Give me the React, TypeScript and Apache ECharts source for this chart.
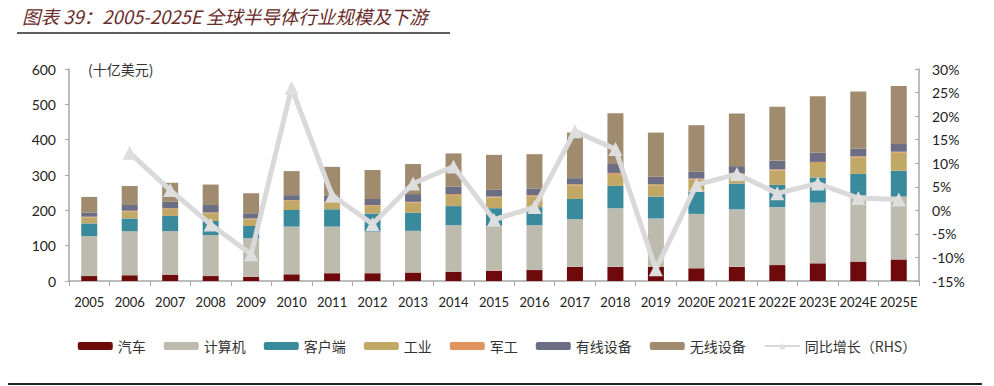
import React, { useEffect, useRef } from "react";
import * as echarts from "echarts";

const years = ["2005","2006","2007","2008","2009","2010","2011","2012","2013","2014","2015","2016","2017","2018","2019","2020E","2021E","2022E","2023E","2024E","2025E"];
const auto =      [14,16,18,14,12,19,22,22,24,26,29,31,40,40,40,36,40,45,50,55,61];
const computer =  [113,125,123,116,109,135,132,118,118,132,127,127,135,166,137,154,163,164,172,188,178];
const client =    [36,36,43,40,35,47,49,51,51,54,50,51,57,63,62,63,73,63,71,60,73];
const industry =  [17,20,20,22,19,26,19,22,29,31,30,31,39,34,32,34,26,41,41,47,51];
const military =  [2,2,2,2,2,2,2,2,2,3,3,3,3,3,3,3,3,3,3,3,3];
const wired =     [12,16,18,21,15,14,17,17,22,21,19,19,17,25,21,19,20,24,26,22,22];
const wireless =  [44,54,54,58,56,68,82,82,85,94,99,97,129,144,125,132,149,153,160,161,164];
const growth =    [null,12.2,4.3,-3.0,-9.3,26,3.2,-2.9,5.7,9.3,-2.0,0.7,16.8,13.0,-12.5,5.4,7.7,3.6,5.7,2.6,2.3];
const leftTicks = { min: 0, max: 600, interval: 100 };
const rightTicks = { min: -15, max: 30, interval: 5 };

const names = ["汽车","计算机","客户端","工业","军工","有线设备","无线设备"];
const colors = ["#6E0A0C","#BDBBAE","#3A8A9E","#C2A866","#E0955E","#6C6E84","#A08B6F"];
const lineName = "同比增长（RHS）";

export default function App() {
  const ref = useRef<HTMLDivElement>(null);
  useEffect(() => {
    if (!ref.current) return;
    const chart = echarts.init(ref.current, null, { renderer: "svg" });
    const barData = [auto, computer, client, industry, military, wired, wireless];
    const axisFont = "Lato, 'Noto Sans', sans-serif";
    const cjk = "'Noto Sans CJK SC', sans-serif";
    chart.setOption({
      animation: false,
      backgroundColor: "#ffffff",
      grid: { left: 69, right: 75, top: 69, bottom: 105 },
      legend: {
        data: [...names, lineName],
        left: "center",
        top: 334,
        itemWidth: 35,
        itemHeight: 8,
        itemGap: 18,
        textStyle: { fontFamily: cjk, fontSize: 14, color: "#333" },
      },
      xAxis: {
        type: "category",
        data: years,
        axisLine: { lineStyle: { color: "#A6A6A6", width: 1.5 } },
        axisTick: { show: true, length: 5, lineStyle: { color: "#A6A6A6" } },
        axisLabel: { color: "#222", fontSize: 13, fontFamily: axisFont, margin: 14, interval: 0 },
      },
      yAxis: [
        {
          type: "value",
          min: leftTicks.min, max: leftTicks.max, interval: leftTicks.interval,
          axisLine: { show: true, lineStyle: { color: "#A6A6A6", width: 1.5 } },
          axisTick: { show: true, length: 4, lineStyle: { color: "#A6A6A6" } },
          splitLine: { show: false },
          axisLabel: { color: "#222", fontSize: 14, fontFamily: axisFont, margin: 13 },
        },
        {
          type: "value",
          min: rightTicks.min, max: rightTicks.max, interval: rightTicks.interval,
          position: "right",
          axisLine: { show: true, lineStyle: { color: "#A6A6A6", width: 1.5 } },
          axisTick: { show: true, inside: true, length: 4, lineStyle: { color: "#A6A6A6" } },
          splitLine: { show: false },
          axisLabel: { color: "#222", fontSize: 14, fontFamily: axisFont, margin: 13, formatter: "{value}%" },
        },
      ],
      series: [
        ...names.map((n, i) => ({
          name: n,
          type: "bar",
          stack: "total",
          barWidth: 16,
          data: barData[i],
          itemStyle: { color: colors[i] },
        })),
        {
          name: lineName,
          type: "line",
          yAxisIndex: 1,
          data: growth,
          z: 10,
          symbol: "triangle",
          symbolSize: 14,
          lineStyle: { color: "#D9D9D9", width: 5 },
          itemStyle: { color: "#DEDEDE" },
        },
      ],
      graphic: [
        {
          type: "text",
          left: 22, top: 7,
          style: { text: "图表 39：2005-2025E 全球半导体行业规模及下游", fontFamily: cjk, fontSize: 18.5, fontStyle: "italic", fill: "#6B2C2C" },
        },
        { type: "rect", shape: { x: 17, y: 32, width: 433, height: 2 }, style: { fill: "#5E5E5E" } },
        {
          type: "text",
          left: 88, top: 62,
          style: { text: "(十亿美元)", fontFamily: cjk, fontSize: 14, fill: "#333" },
        },
        { type: "rect", shape: { x: 8, y: 383, width: 974, height: 2 }, style: { fill: "#222" } },
      ],
    });
    return () => chart.dispose();
  }, []);
  return <div ref={ref} style={{ position: "fixed", left: 0, top: 0, width: 994, height: 386 }} />;
}
